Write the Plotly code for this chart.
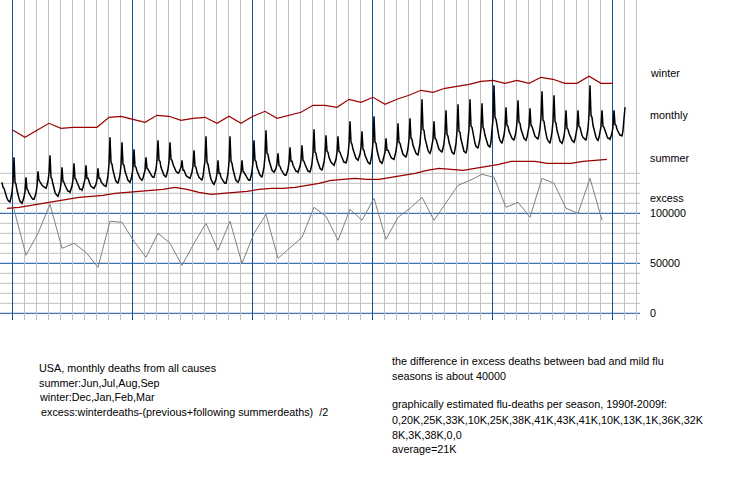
import plotly.graph_objects as go

# USA monthly deaths, Jan..Dec per row (scale of the 0/50000/100000 axis, /1000)
monthly = [
    131, 126, 125, 121, 117, 115, 113, 112, 111, 116, 121, 131,
    156, 131, 129, 123, 118, 115, 112, 111, 110, 113, 116, 122,
    136, 124, 123, 120, 118, 116, 115, 114, 114, 117, 120, 127,
    142, 133, 132, 130, 128, 127, 126, 125, 125, 128, 132, 140,
    158, 136, 134, 129, 124, 121, 119, 118, 117, 120, 123, 130,
    146, 132, 131, 128, 126, 124, 122, 122, 121, 124, 127, 134,
    150, 135, 134, 131, 128, 126, 124, 124, 123, 126, 129, 134,
    148, 135, 135, 131, 129, 127, 126, 125, 125, 127, 129, 134,
    145, 135, 135, 132, 130, 129, 128, 127, 127, 132, 138, 149,
    176, 151, 149, 143, 138, 135, 132, 131, 130, 134, 139, 148,
    171, 149, 148, 142, 138, 135, 133, 132, 131, 134, 138, 146,
    164, 147, 146, 142, 139, 136, 135, 134, 133, 135, 138, 143,
    156, 145, 144, 142, 140, 138, 137, 136, 136, 140, 144, 153,
    173, 153, 152, 146, 143, 140, 138, 137, 136, 140, 144, 152,
    171, 154, 153, 149, 146, 143, 142, 141, 140, 141, 143, 146,
    153, 143, 143, 140, 138, 137, 136, 135, 135, 138, 141, 148,
    163, 147, 146, 141, 138, 136, 135, 134, 133, 137, 143, 153,
    177, 151, 149, 142, 138, 134, 131, 130, 129, 131, 134, 140,
    153, 140, 140, 136, 134, 132, 131, 130, 130, 135, 140, 151,
    177, 152, 150, 144, 139, 136, 133, 132, 131, 133, 136, 141,
    153, 142, 141, 139, 137, 135, 134, 133, 133, 137, 142, 151,
    173, 153, 152, 146, 143, 140, 138, 137, 136, 141, 146, 157,
    183, 160, 159, 153, 149, 145, 143, 142, 141, 143, 145, 150,
    160, 148, 147, 144, 142, 140, 139, 138, 138, 141, 144, 151,
    166, 152, 152, 148, 146, 144, 142, 142, 141, 144, 147, 153,
    168, 153, 152, 149, 146, 144, 142, 142, 141, 145, 150, 160,
    184, 161, 160, 154, 150, 147, 145, 144, 143, 147, 151, 159,
    178, 162, 161, 156, 153, 151, 150, 149, 148, 151, 154, 161,
    177, 162, 161, 158, 155, 153, 151, 151, 150, 154, 159, 169,
    192, 171, 169, 164, 160, 157, 155, 154, 153, 156, 159, 166,
    182, 164, 163, 158, 155, 152, 151, 150, 149, 154, 160, 171,
    197, 171, 170, 163, 158, 155, 152, 151, 150, 153, 156, 161,
    175, 163, 163, 160, 158, 156, 155, 154, 154, 158, 162, 170,
    190, 171, 170, 166, 162, 159, 158, 157, 156, 160, 165, 174,
    195, 175, 174, 168, 165, 162, 160, 159, 158, 164, 170, 183,
    214, 184, 183, 175, 170, 165, 163, 161, 160, 163, 167, 174,
    192, 175, 174, 170, 167, 164, 163, 162, 161, 165, 170, 180,
    203, 179, 177, 171, 167, 163, 161, 160, 159, 164, 170, 182,
    209, 182, 181, 174, 169, 165, 162, 161, 160, 165, 172, 184,
    214, 187, 186, 179, 174, 170, 167, 166, 165, 170, 175, 185,
    210, 186, 184, 178, 174, 170, 168, 167, 166, 172, 180, 194,
    228, 196, 194, 186, 180, 176, 173, 171, 170, 174, 178, 186,
    206, 188, 187, 182, 179, 176, 175, 174, 173, 177, 182, 191,
    213, 191, 190, 184, 180, 177, 175, 174, 173, 176, 180, 187,
    205, 188, 187, 183, 180, 177, 176, 175, 174, 179, 185, 196,
    222, 193, 192, 185, 179, 175, 173, 171, 170, 175, 181, 192,
    218, 192, 190, 183, 179, 175, 172, 171, 170, 173, 177, 185,
    203, 185, 184, 180, 177, 174, 173, 172, 171, 174, 178, 185,
    203, 187, 186, 181, 178, 176, 175, 174, 173, 179, 185, 198,
    228, 198, 196, 188, 183, 179, 176, 174, 173, 176, 180, 187,
    203, 187, 186, 182, 179, 177, 175, 175, 174, 177, 180, 187,
    203, 189, 188, 184, 182, 180, 178, 178, 177, 183, 192, 206,
]

winter = [183, 176, 183, 190, 185, 186, 186, 186, 196, 197, 194, 191, 198, 197, 193, 195, 196,
          190, 197, 190, 197, 202, 195, 198, 201, 208, 208, 206, 214, 211, 216, 209, 214, 218,
          223, 221, 225, 227, 229, 232, 233, 230, 233, 230, 236, 234, 230, 230, 237, 230, 230]

summer = [105, 106, 108, 110, 112, 114, 116, 117, 118, 120, 121, 122, 123, 124, 126, 124, 121,
          119, 120, 121, 122, 124, 125, 125, 126, 128, 130, 133, 134, 135, 134, 134, 136, 138,
          140, 143, 145, 144, 143, 145, 147, 149, 152, 152, 152, 150, 150, 150, 152, 153, 154]

excess = [104, 58, 80, 109, 65, 70, 61, 46, 92, 91, 72, 56, 80, 70, 48, 70, 90, 63, 92, 50,
          80, 99, 55, 66, 76, 106, 97, 73, 104, 93, 115, 74, 96, 105, 116, 93, 111, 128, 133,
          139, 136, 106, 111, 96, 135, 130, 105, 100, 135, 93]

side_labels = ["winter", "monthly", "summer", "excess"]
tick_vals = [0, 50, 100]
tick_text = ["0", "50000", "100000"]

left_notes = ["USA, monthly deaths from all causes",
              "summer:Jun,Jul,Aug,Sep",
              "winter:Dec,Jan,Feb,Mar",
              "excess:winterdeaths-(previous+following summerdeaths)  /2"]
right_notes = ["the difference in excess deaths between bad and mild flu",
               "seasons is about 40000",
               "",
               "graphically estimated flu-deaths per season, 1990f-2009f:",
               "0,20K,25K,33K,10K,25K,38K,41K,43K,41K,10K,13K,1K,36K,32K",
               "8K,3K,38K,0,0",
               "average=21K"]

BLUE = "#1050a0"
GRID = "#c0c0c0"
RED = "#990000"
FONT = dict(family="Liberation Sans, Arial", size=10.8, color="black")

# month index, 0 = first january of the series
t_month = list(range(len(monthly)))
t_winter = [11 + 12 * k for k in range(len(winter))]
t_summer = [5 + 12 * k for k in range(len(summer))]
t_excess = [12 + 12 * k for k in range(len(excess))]

fig = go.Figure()
fig.add_trace(go.Scatter(x=t_winter, y=winter, mode="lines", line=dict(color=RED, width=1.2)))
fig.add_trace(go.Scatter(x=t_summer, y=summer, mode="lines", line=dict(color=RED, width=1.2)))
fig.add_trace(go.Scatter(x=t_excess, y=excess, mode="lines", line=dict(color="#808080", width=1)))
fig.add_trace(go.Scatter(x=t_month, y=monthly, mode="lines", line=dict(color="black", width=1.5)))

# horizontal grid only in the excess part
for v in range(0, 150, 10):
    fig.add_shape(type="line", xref="paper", x0=0, x1=1, y0=v, y1=v, layer="between",
                  line=dict(color=BLUE if v % 50 == 0 else GRID, width=1))

W, H = 640, 320  # plot area in px


def note(text, px, py):
    fig.add_annotation(text=text, xref="paper", yref="paper", x=px / W, y=(H - py) / H,
                       xanchor="left", yanchor="middle", showarrow=False, font=FONT)


for lab, py in zip(side_labels, [73, 115, 158, 198]):
    note(lab, 648, py)
for val, lab in zip(tick_vals, tick_text):
    fig.add_annotation(text=lab, xref="paper", x=648 / W, y=val, xanchor="left", yanchor="middle",
                       showarrow=False, font=FONT)

for i, line in enumerate(left_notes):
    note(line, 37 if i < 3 else 39, [368, 383, 397, 412][i])
for i, line in enumerate(right_notes):
    if line:
        note(line, 390, [361, 376, 390, 404, 420, 435, 449][i])

fig.update_layout(
    width=730, height=480,
    margin=dict(l=0, r=730 - W, t=0, b=480 - H),
    paper_bgcolor="white", plot_bgcolor="white",
    showlegend=False,
    xaxis=dict(range=[-2, 638], showticklabels=False, zeroline=False, ticks="",
               showgrid=True, gridcolor=BLUE, gridwidth=1, tick0=10, dtick=120,
               minor=dict(showgrid=True, gridcolor=GRID, gridwidth=1, tick0=-2, dtick=12)),
    yaxis=dict(range=[-6.7, 313.3], showticklabels=False, showgrid=False, zeroline=False, ticks=""),
)

# page has a default 8px body margin, drop it so the chart sits at the window corner
fig.write_html("out.html", config={"displayModeBar": False},
               post_script="document.body.style.margin='0px';")
